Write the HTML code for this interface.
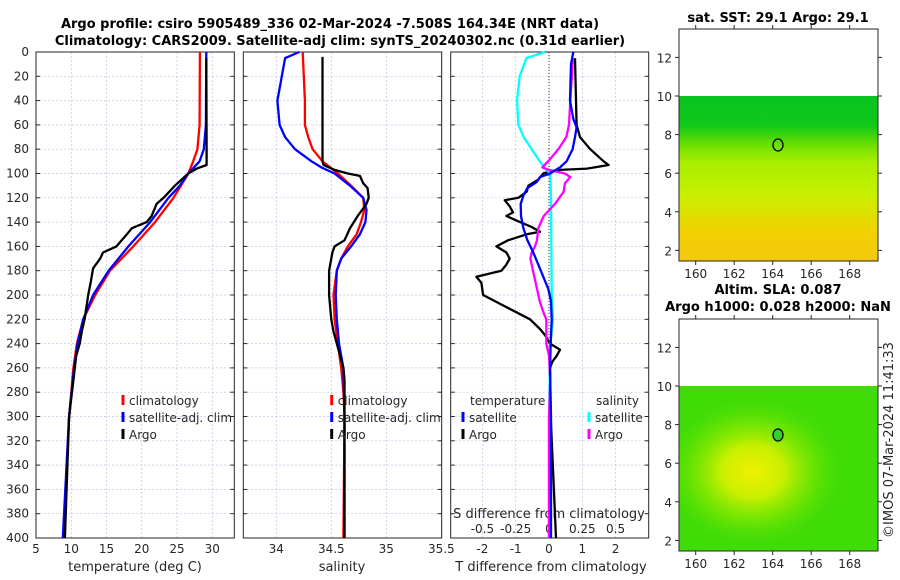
<!DOCTYPE html>
<html><head><meta charset="utf-8">
<style>
html,body{margin:0;padding:0;background:#fff;}
svg{display:block;font-family:"DejaVu Sans","Liberation Sans",sans-serif;}
.tl{font-size:12px;fill:#262626;}
.ttl{font-size:13px;font-weight:bold;fill:#000;}
.lab{font-size:13px;fill:#262626;}
.grid{stroke:#b8c4e0;stroke-width:0.7;stroke-dasharray:2,2;}
.box{fill:none;stroke:#262626;stroke-width:1;}
</style></head><body>
<svg id="fig" width="900" height="580" viewBox="0 0 900 580">
<defs>
<linearGradient id="sstG" x1="0" y1="0" x2="0" y2="1">
<stop offset="0" stop-color="#08c420"/><stop offset="0.18" stop-color="#10c818"/>
<stop offset="0.3" stop-color="#70e000"/><stop offset="0.4" stop-color="#a8ee00"/>
<stop offset="0.6" stop-color="#c8f000"/><stop offset="0.72" stop-color="#e0e000"/>
<stop offset="0.82" stop-color="#f2d000"/><stop offset="1" stop-color="#f4c810"/></linearGradient>
<radialGradient id="slaBlob" cx="0.37" cy="0.52" r="0.45">
<stop offset="0" stop-color="#f0f000"/><stop offset="0.35" stop-color="#c8f000"/>
<stop offset="0.7" stop-color="#80e800" stop-opacity="0.6"/><stop offset="1" stop-color="#50e000" stop-opacity="0"/></radialGradient>
</defs>
<text class="ttl" x="330" y="28" text-anchor="middle">Argo profile: csiro 5905489_336 02-Mar-2024 -7.508S 164.34E (NRT data)</text>
<text class="ttl" x="340" y="45" text-anchor="middle">Climatology: CARS2009. Satellite-adj clim: synTS_20240302.nc (0.31d earlier)</text>
<g id="p1"></g>
<g id="p2"></g>
<g id="p3"></g>
<g id="maps">
<text class="ttl" x="778" y="22" text-anchor="middle">sat. SST: 29.1 Argo: 29.1</text>
<rect x="679" y="96" width="199" height="165" fill="url(#sstG)"/>
<rect x="679" y="29" width="199" height="232" class="box"/>
<ellipse cx="778" cy="145" rx="5" ry="6" fill="none" stroke="#000" stroke-width="1.3"/>
<text class="ttl" x="778" y="294" text-anchor="middle">Altim. SLA: 0.087</text>
<text class="ttl" x="778" y="311" text-anchor="middle">Argo h1000: 0.028 h2000: NaN</text>
<rect x="679" y="386" width="199" height="165" fill="#40dc08"/>
<rect x="679" y="386" width="199" height="165" fill="url(#slaBlob)"/>
<rect x="679" y="319" width="199" height="232" class="box"/>
<ellipse cx="778" cy="435" rx="5" ry="6" fill="#30d030" stroke="#000" stroke-width="1.3"/>
<text x="893" y="440" font-size="13" fill="#262626" text-anchor="middle" transform="rotate(-90 893 440)">©IMOS 07-Mar-2024 11:41:33</text>
</g>
</svg>
<script>
const depths=[0,20,40,60,80,100,120,140,160,180,200,220,240,260,280,300,320,340,360,380,400];
const tTicks=[5,10,15,20,25,30];
const sTicks=[34,34.5,35,35.5];
const dTTicks=[-2,-1,0,1,2];
const dSTicks=[-0.5,-0.25,0,0.25,0.5];
const dSLabels=["-0.5","-0.25","0","0.25","0.5"];
const lonTicks=[160,162,164,166,168];
const latTicks=[2,4,6,8,10,12];

const climTd=[0,60,80,90,100,120,140,160,180,200,220,240,260,280,300,340,400];
const climT=[28.25,28.2,27.9,27.3,26.6,24.5,21.9,18.8,15.5,13.4,11.7,10.8,10.3,10,9.7,9.35,8.9];
const satTd=[0,60,80,90,100,110,120,140,160,180,200,220,240,260,300,400];
const satT=[29.15,29.1,28.8,28.2,26.6,25.4,23.8,21.2,18.1,15.3,13.1,11.7,10.9,10.4,9.7,8.8];
const argoTd=[5,80,93,96,100,110,120,125,135,140,145,150,160,165,170,178,190,200,220,230,240,250,270,300,400];
const argoT=[29.15,29.2,29.2,27.8,26.6,24.7,23.1,22.1,21.4,20.7,18.6,17.9,16.4,14.5,14.1,13.1,12.75,12.4,11.9,11.5,11.2,10.7,10.3,9.7,9.1];

const climSd=[0,20,40,60,70,80,90,100,110,120,130,140,150,160,170,180,200,220,240,260,280,300,400];
const climS=[34.24,34.25,34.26,34.26,34.29,34.33,34.42,34.56,34.68,34.79,34.8,34.77,34.73,34.65,34.59,34.55,34.52,34.53,34.56,34.59,34.61,34.62,34.61];
const satSd=[0,5,20,40,60,70,80,90,95,100,110,120,130,140,150,160,170,180,200,220,240,260,300,400];
const satS=[34.21,34.08,34.05,34.01,34.03,34.08,34.17,34.32,34.41,34.53,34.67,34.79,34.82,34.81,34.76,34.68,34.59,34.55,34.54,34.55,34.57,34.61,34.62,34.62];
const argoSd=[4,90,93,97,100,102,108,112,120,125,135,145,155,160,165,180,200,220,230,240,250,260,270,300,400];
const argoS=[34.42,34.42,34.43,34.53,34.65,34.76,34.79,34.83,34.84,34.82,34.74,34.67,34.62,34.53,34.51,34.48,34.48,34.5,34.52,34.55,34.58,34.61,34.62,34.62,34.62];

const dTsatD=[0,10,40,55,62,70,80,90,95,100,103,107,112,118,125,135,145,155,165,175,185,195,205,220,240,260,300,400];
const dTsat=[0.73,0.66,0.63,0.73,0.83,0.78,0.71,0.53,0.33,0.03,-0.27,-0.37,-0.65,-0.77,-0.85,-0.84,-0.77,-0.65,-0.47,-0.32,-0.17,-0.02,0.06,0.08,0.05,0.03,0.06,0.06];
const dTargoD=[5,60,70,80,90,93,96,97,98,100,105,110,115,120,122,127,132,135,140,144,148,150,155,160,165,170,175,180,185,190,200,210,220,228,233,240,245,250,255,260,300,400];
const dTargo=[0.78,0.83,0.93,1.24,1.64,1.79,1.14,0.33,0.03,-0.17,-0.32,-0.62,-0.67,-0.92,-1.33,-1.18,-1.08,-1.28,-0.87,-0.52,-0.27,-0.67,-1.23,-1.58,-1.28,-1.18,-1.28,-1.43,-2.18,-2.03,-1.98,-1.28,-0.57,-0.27,-0.12,0.03,0.33,0.23,0.1,0.03,0.05,0.21];
const dSsatD=[0,5,20,40,60,70,80,90,97,100,120,200,220,240,300,400];
const dSsat=[-0.03,-0.17,-0.22,-0.24,-0.23,-0.19,-0.13,-0.07,-0.02,0.01,0.015,0.02,0.03,0.01,0.0,0.0];
const dSargoD=[5,40,60,70,80,88,95,97,100,103,108,115,125,135,145,155,160,165,170,180,195,205,215,220,230,240,250,270,300,400];
const dSargo=[0.18,0.16,0.15,0.13,0.07,0.01,-0.05,0.0,0.12,0.16,0.12,0.11,0.045,-0.04,-0.08,-0.09,-0.105,-0.13,-0.14,-0.12,-0.09,-0.07,-0.04,-0.02,-0.02,-0.02,0.0,0.01,0.0,0.0];

const NS='http://www.w3.org/2000/svg';
const TOP=52,BOT=538;
function yD(d){return TOP+d*(BOT-TOP)/400;}
function xT(t){return 36+(t-5)*7.05;}
function xS(s){return 243.3+(s-33.7)*110;}
function xdT(v){return 549+v*33.3;}
function xdS(v){return 549+v*133.2;}
function mk(tag,attrs,parent){const e=document.createElementNS(NS,tag);for(const k in attrs)e.setAttribute(k,attrs[k]);parent.appendChild(e);return e;}
function txt(parent,x,y,s,cls,anchor){const e=mk('text',{x:x,y:y,class:cls,'text-anchor':anchor||'middle'},parent);e.textContent=s;return e;}
function line(parent,xs,ds,xf,color,name){
  const pts=xs.map((v,i)=>xf(v).toFixed(1)+','+yD(ds[i]).toFixed(1)).join(' ');
  const p=mk('polyline',{points:pts,fill:'none',stroke:color,'stroke-width':2.3,'stroke-linejoin':'round'},parent);
  
  
}
function panel(g,x0,x1,vgrid,xf){
  vgrid.forEach(v=>{const l=mk('line',{x1:xf(v),x2:xf(v),y1:TOP,y2:BOT,class:'grid'},g);
    
    });
  depths.forEach(d=>{const l=mk('line',{x1:x0,x2:x1,y1:yD(d),y2:yD(d),class:'grid'},g);
    
    
    mk('line',{x1:x0,x2:x0+4,y1:yD(d),y2:yD(d),stroke:'#262626'},g);
    mk('line',{x1:x1-4,x2:x1,y1:yD(d),y2:yD(d),stroke:'#262626'},g);});
  const r=mk('rect',{x:x0,y:TOP,width:x1-x0,height:BOT-TOP,class:'box'},g);
  
  
}
function legendEntry(g,x,y,color,label){
  const l=mk('line',{x1:x,x2:x,y1:y-10,y2:y,stroke:color,'stroke-width':3},g);
  
  
  const t=txt(g,x+6,y,label,'tl','start');
  
  
}
const p1=document.getElementById('p1');
panel(p1,36,234.3,tTicks,xT);
depths.forEach(d=>{const t=txt(p1,29,yD(d)+4,String(d),'tl','end');
  
  });
tTicks.forEach(v=>{const t=txt(p1,xT(v),553,String(v),'tl');
  
  });
const a1=txt(p1,135,571,'temperature (deg C)','lab');


line(p1,climT,climTd,xT,'#ff0000','climatology-temperature-line');
line(p1,satT,satTd,xT,'#0000ff','satellite-temperature-line');
line(p1,argoT,argoTd,xT,'#000000','argo-temperature-line');
legendEntry(p1,123,405,'#ff0000','climatology');
legendEntry(p1,123,422,'#0000ff','satellite-adj. clim');
legendEntry(p1,123,439,'#000000','Argo');
const p2=document.getElementById('p2');
panel(p2,243.3,441.7,sTicks,xS);
sTicks.forEach(v=>{const t=txt(p2,xS(v),553,String(v),'tl');
  
  });
const a2=txt(p2,342,571,'salinity','lab');


line(p2,climS,climSd,xS,'#ff0000','climatology-salinity-line');
line(p2,satS,satSd,xS,'#0000ff','satellite-salinity-line');
line(p2,argoS,argoSd,xS,'#000000','argo-salinity-line');
legendEntry(p2,331.7,405,'#ff0000','climatology');
legendEntry(p2,331.7,422,'#0000ff','satellite-adj. clim');
legendEntry(p2,331.7,439,'#000000','Argo');
const p3=document.getElementById('p3');
panel(p3,450.7,648.7,dTTicks,xdT);
const zl=mk('line',{x1:xdT(0),x2:xdT(0),y1:TOP,y2:BOT,stroke:'#333','stroke-width':1,'stroke-dasharray':'1,2'},p3);


dTTicks.forEach(v=>{const t=txt(p3,xdT(v),553,String(v),'tl');
  
  });
dSTicks.forEach((v,i)=>{const t=txt(p3,xdS(v),533,dSLabels[i],'tl');
  
  });
const a3=txt(p3,549,518,'S difference from climatology','lab');


const a4=txt(p3,551,571,'T difference from climatology','lab');


line(p3,dTargo,dTargoD,xdT,'#000000','argo-t-diff-line');
line(p3,dSsat,dSsatD,xdS,'#00ffff','satellite-s-diff-line');
line(p3,dSargo,dSargoD,xdS,'#ff00ff','argo-s-diff-line');
line(p3,dTsat,dTsatD,xdT,'#0000ff','satellite-t-diff-line');
const lt=txt(p3,470,405,'temperature','tl','start');


const ls=txt(p3,596,405,'salinity','tl','start');


legendEntry(p3,463,422,'#0000ff','satellite');
legendEntry(p3,463,439,'#000000','Argo');
legendEntry(p3,589,422,'#00ffff','satellite');
legendEntry(p3,589,439,'#ff00ff','Argo');
const maps=document.getElementById('maps');
function mapAxes(top,bot,y10,name){
  const x0=679,x1=878;
  const lonX=v=>695.7+(v-160)*19.25;
  const latY=v=>y10-(v-10)*((bot-y10)/(10-1.45));
  lonTicks.forEach(v=>{const x=lonX(v);
    mk('line',{x1:x,x2:x,y1:bot,y2:bot+4,stroke:'#262626'},maps);
    mk('line',{x1:x,x2:x,y1:top,y2:top-4,stroke:'#262626'},maps);
    const t=txt(maps,x,bot+17,String(v),'tl');
    
    });
  latTicks.forEach(v=>{const y=latY(v);
    mk('line',{x1:x0-4,x2:x0,y1:y,y2:y,stroke:'#262626'},maps);
    mk('line',{x1:x1,x2:x1+4,y1:y,y2:y,stroke:'#262626'},maps);
    const t=txt(maps,672,y+5,String(v),'tl','end');
    
    });
}
mapAxes(29,261,96,'sst-map');
mapAxes(319,551,386,'sla-map');
</script>
</body></html>
